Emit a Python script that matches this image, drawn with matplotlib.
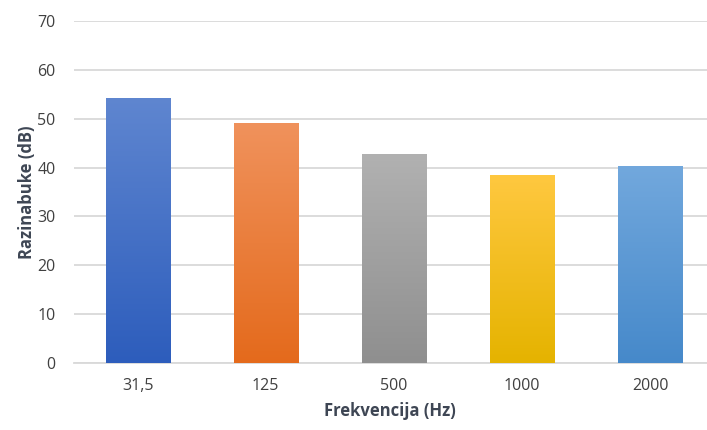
import matplotlib
matplotlib.use("Agg")
import matplotlib.pyplot as plt
import numpy as np
from matplotlib.colors import LinearSegmentedColormap

plt.rcParams['font.family'] = ['Open Sans', 'DejaVu Sans']

categories = ['31,5', '125', '500', '1000', '2000']
values = [54.3, 49.1, 42.7, 38.5, 40.4]
top_colors = ['#5F86D0', '#F0925C', '#B1B1B1', '#FFC840', '#72A8DD']
bottom_colors = ['#2D5DBC', '#E46A1C', '#8F8F8F', '#E5B300', '#4689CA']

fig = plt.figure(figsize=(7.07, 4.30), dpi=100)
ax = fig.add_axes([0.104, 0.156, 0.906, 0.795])

x = np.arange(len(categories))
bars = ax.bar(x, values, width=0.5, color='none', zorder=3)

grad = np.linspace(0, 1, 256).reshape(-1, 1)
for bar, c_top, c_bot in zip(bars, top_colors, bottom_colors):
    cmap = LinearSegmentedColormap.from_list('g', [c_bot, c_top])
    x0 = bar.get_x()
    x1 = x0 + bar.get_width()
    h = bar.get_height()
    im = ax.imshow(grad, cmap=cmap, extent=[x0, x1, 0, h], origin='lower',
                   aspect='auto', zorder=3)
    im.set_clip_path(bar)
    bar.set_edgecolor(c_bot)
    bar.set_linewidth(0.6)

ax.set_xlim(-0.5, len(categories) - 0.5)
ax.set_ylim(0, 70)
ax.set_yticks(range(0, 80, 10))
ax.set_xticks(x)
ax.set_xticklabels(categories)

ax.grid(axis='y', color='#D9D9D9', linewidth=1.3, zorder=0)
ax.set_axisbelow(True)
for side in ['top', 'right', 'left']:
    ax.spines[side].set_visible(False)
ax.spines['bottom'].set_color('#D9D9D9')
ax.spines['bottom'].set_linewidth(1.3)
ax.tick_params(length=0, colors='#404040', labelsize=11.5)
ax.tick_params(axis='x', pad=11)
ax.tick_params(axis='y', pad=13)

ax.set_xlabel('Frekvencija (Hz)', fontsize=12, fontweight='bold', color='#3E4654', va='top')
ax.set_ylabel('Razinabuke (dB)', fontsize=12, fontweight='bold', color='#3E4654')
ax.xaxis.set_label_coords(0.494, -0.113)
ax.yaxis.set_label_coords(-0.058, 0.5)

fig.savefig('out.png', dpi=100)
